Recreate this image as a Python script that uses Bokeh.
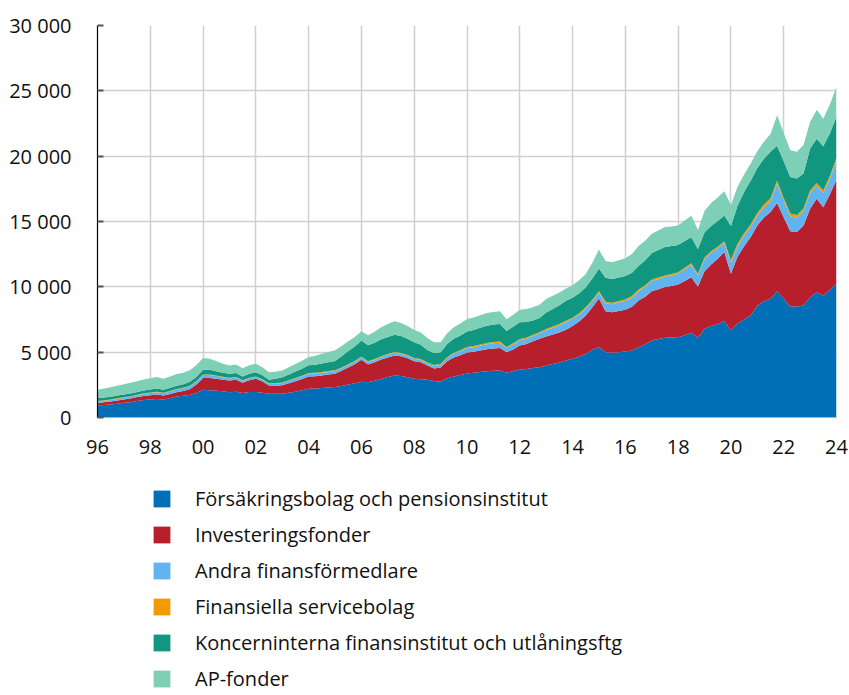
from bokeh.plotting import figure
from bokeh.models import Legend, LegendItem, FixedTicker, ColumnDataSource
from bokeh.layouts import column
from bokeh.embed import file_html
from bokeh.resources import INLINE

# Quarterly observations 1996Q1 .. 2024Q1 (plotted at year + (q-1)/4)
quarters = [1996 + q / 4 for q in range(113)]

forsakring = [
    920, 960, 1000, 1060, 1120, 1170, 1260, 1330, 1380, 1420, 1380, 1480,
    1610, 1660, 1720, 1870, 2120, 2080, 2040, 2000, 1940, 1980, 1880, 1950,
    1960, 1900, 1810, 1810, 1820, 1900, 1980, 2080, 2200, 2220, 2260, 2300,
    2330, 2420, 2520, 2620, 2740, 2700, 2820, 2950, 3100, 3220, 3180, 3080,
    2960, 2930, 2890, 2800, 2740, 3000, 3140, 3250, 3370, 3430, 3480, 3540,
    3570, 3600, 3420, 3560, 3680, 3720, 3780, 3850, 3980, 4100, 4200, 4360,
    4500, 4650, 4880, 5180, 5380, 5000, 4950, 5000, 5050, 5120, 5380, 5600,
    5900, 6000, 6100, 6120, 6150, 6300, 6490, 6100, 6790, 7000, 7150, 7370,
    6660, 7200, 7500, 7810, 8580, 8900, 9090, 9670, 9100, 8500, 8500, 8580,
    9210, 9590, 9340, 9780, 10280]

investering = [
    190, 200, 220, 240, 260, 280, 300, 320, 330, 340, 300, 320,
    330, 360, 450, 650, 900, 950, 920, 880, 890, 900, 780, 900,
    1000, 850, 640, 620, 640, 720, 800, 870, 940, 940, 960, 990,
    1020, 1150, 1300, 1450, 1680, 1360, 1400, 1480, 1500, 1530, 1500, 1450,
    1350, 1300, 1090, 950, 1080, 1300, 1450, 1520, 1600, 1600, 1650, 1690,
    1710, 1720, 1580, 1650, 1830, 1900, 2050, 2170, 2220, 2250, 2300, 2350,
    2500, 2700, 2930, 3250, 3720, 3140, 3100, 3150, 3200, 3350, 3580, 3650,
    3770, 3820, 3880, 3950, 4030, 4150, 4250, 3930, 4410, 4700, 5000, 5290,
    4340, 5100, 5600, 6000, 6120, 6400, 6630, 6740, 6200, 5760, 5690, 6120,
    6770, 7150, 6760, 7300, 7910]

andra = [
    110, 115, 120, 125, 130, 140, 150, 160, 170, 180, 170, 190,
    200, 210, 220, 230, 240, 230, 210, 190, 170, 175, 150, 150,
    140, 140, 140, 160, 180, 190, 200, 200, 200, 200, 200, 200,
    200, 200, 200, 190, 180, 180, 190, 200, 200, 200, 200, 190,
    180, 180, 170, 200, 220, 260, 300, 320, 340, 350, 360, 380,
    400, 400, 300, 380, 400, 400, 410, 420, 480, 520, 560, 600,
    550, 540, 540, 500, 450, 600, 620, 650, 680, 700, 720, 760,
    780, 780, 770, 800, 820, 900, 950, 830, 930, 900, 800, 700,
    850, 800, 800, 780, 750, 800, 850, 1500, 1300, 1150, 1100, 1100,
    1200, 1000, 1080, 1200, 1450]

service = [
    40, 40, 40, 40, 40, 40, 40, 40, 40, 40, 40, 40,
    40, 40, 40, 40, 40, 40, 40, 40, 40, 40, 40, 40,
    40, 40, 40, 40, 40, 40, 40, 40, 60, 60, 60, 60,
    60, 60, 60, 60, 60, 60, 60, 60, 60, 60, 60, 60,
    60, 60, 60, 60, 60, 60, 60, 60, 90, 90, 90, 90,
    90, 90, 90, 90, 90, 90, 90, 90, 90, 90, 90, 90,
    90, 90, 90, 90, 120, 120, 120, 120, 120, 120, 120, 120,
    120, 120, 120, 120, 120, 120, 120, 120, 120, 120, 120, 120,
    200, 200, 200, 200, 200, 200, 200, 200, 200, 200, 200, 200,
    200, 200, 200, 200, 220]

koncern = [
    230, 220, 215, 210, 210, 210, 210, 220, 230, 240, 230, 240,
    250, 270, 300, 330, 360, 350, 330, 310, 300, 310, 290, 310,
    330, 300, 260, 330, 400, 450, 500, 550, 590, 620, 650, 680,
    710, 850, 1000, 1120, 1230, 1220, 1250, 1290, 1310, 1330, 1300, 1250,
    1200, 1100, 950, 920, 900, 1000, 1080, 1130, 1180, 1230, 1280, 1320,
    1340, 1350, 1230, 1260, 1280, 1200, 1100, 1080, 1270, 1350, 1450, 1530,
    1530, 1530, 1530, 1620, 1740, 1830, 1800, 1790, 1780, 1780, 1790, 1900,
    2010, 2100, 2170, 2130, 2090, 2040, 1990, 1920, 1920, 1940, 1960, 1970,
    2610, 2900, 3150, 3350, 3450, 3500, 3570, 2680, 2810, 2800, 2810, 2680,
    3200, 3400, 3370, 3280, 3180]

apfonder = [
    640, 680, 720, 760, 790, 810, 820, 830, 850, 870, 840, 870,
    890, 890, 890, 890, 890, 850, 780, 700, 640, 650, 620, 640,
    640, 610, 580, 540, 510, 540, 580, 610, 640, 690, 740, 780,
    820, 790, 760, 730, 710, 770, 850, 930, 990, 1020, 1000, 970,
    940, 930, 920, 830, 750, 820, 880, 920, 950, 960, 960, 970,
    970, 970, 890, 930, 970, 990, 1010, 1020, 1030, 1000, 970, 940,
    960, 990, 1020, 1200, 1450, 1280, 1300, 1330, 1360, 1450, 1530, 1500,
    1480, 1500, 1530, 1500, 1480, 1560, 1640, 1450, 1660, 1750, 1800, 1860,
    1600, 1450, 1350, 1300, 1270, 1300, 1360, 2350, 2170, 2040, 2030, 2170,
    2030, 2220, 2120, 2200, 2300]

series_keys = ["forsakring", "investering", "andra", "service", "koncern", "apfonder"]
series_labels = [
    "Försäkringsbolag och pensionsinstitut",
    "Investeringsfonder",
    "Andra finansförmedlare",
    "Finansiella servicebolag",
    "Koncerninterna finansinstitut och utlåningsftg",
    "AP-fonder",
]
colors = ["#006fb8", "#b81f2d", "#62b4f0", "#f39a00", "#11977f", "#7dcfb5"]

year_ticks = [1996, 1998, 2000, 2002, 2004, 2006, 2008, 2010, 2012, 2014, 2016, 2018, 2020, 2022, 2024]
year_labels = ["96", "98", "00", "02", "04", "06", "08", "10", "12", "14", "16", "18", "20", "22", "24"]
y_ticks = [0, 5000, 10000, 15000, 20000, 25000, 30000]
y_labels = ["0", "5 000", "10 000", "15 000", "20 000", "25 000", "30 000"]

src = ColumnDataSource(dict(
    x=quarters, forsakring=forsakring, investering=investering, andra=andra,
    service=service, koncern=koncern, apfonder=apfonder))

FONT = "Open Sans"

# ---- main chart ----
p = figure(frame_width=739, frame_height=392, min_border_left=97, min_border_right=13,
           min_border_top=25, min_border_bottom=50,
           x_range=(1996, 2024), y_range=(0, 30000),
           output_backend="svg", toolbar_location=None)

p.varea_stack(stackers=series_keys, x="x", source=src, color=colors)

p.xaxis.ticker = FixedTicker(ticks=year_ticks)
p.xaxis.major_label_overrides = {t: l for t, l in zip(year_ticks, year_labels)}
p.yaxis.ticker = FixedTicker(ticks=y_ticks)
p.yaxis.major_label_overrides = {t: l for t, l in zip(y_ticks, y_labels)}

for ax in (p.xaxis, p.yaxis):
    ax.major_label_text_font = FONT
    ax.major_label_text_font_size = "20px"
    ax.major_label_text_color = "#111111"
    ax.minor_tick_line_color = None

p.yaxis.axis_line_color = "#000000"
p.yaxis.axis_line_width = 1.2
p.yaxis.major_tick_in = 6
p.yaxis.major_tick_out = 0
p.yaxis.major_tick_line_color = "#555555"
p.yaxis.major_tick_line_width = 2
p.yaxis.major_label_standoff = 26

p.xaxis.axis_line_color = "#b0b0b0"
p.xaxis.major_tick_line_color = None
p.xaxis.major_label_standoff = 16

p.xgrid.grid_line_color = "#cfcfcf"
p.ygrid.grid_line_color = "#cfcfcf"
p.xgrid.grid_line_width = 1.5
p.ygrid.grid_line_width = 1.5
p.outline_line_color = None

# ---- legend panel (same stacked series, drawn off-range, only the legend shows) ----
q = figure(frame_width=739, frame_height=228, min_border_left=97, min_border_right=13,
           min_border_top=0, min_border_bottom=0,
           x_range=(0, 1), y_range=(0, 1),
           output_backend="svg", toolbar_location=None)
q.axis.visible = False
q.grid.visible = False
q.outline_line_color = None
swatches = q.varea_stack(stackers=series_keys, x="x", source=src, color=colors)

legend = Legend(
    items=[LegendItem(label=lab, renderers=[r]) for lab, r in zip(series_labels, swatches)],
    location=(54, 3), orientation="vertical",
    glyph_width=21, glyph_height=21, label_height=21, spacing=9,
    padding=0, margin=0, label_standoff=23,
    border_line_color=None, background_fill_alpha=0,
    label_text_font=FONT, label_text_font_size="20px", label_text_color="#111111",
)
q.add_layout(legend)

layout = column(p, q, spacing=0)
open("out.html", "w").write(file_html(layout, INLINE))
